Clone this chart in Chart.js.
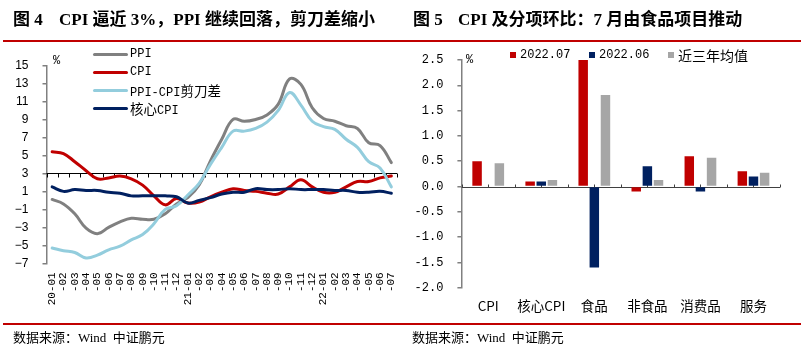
<!DOCTYPE html>
<html><head><meta charset="utf-8">
<script src="https://cdn.jsdelivr.net/npm/chart.js@4.4.0/dist/chart.umd.min.js"></script>
<style>
html,body{margin:0;padding:0;background:#fff}
#page{position:relative;width:803px;height:356px;overflow:hidden;background:#fff}
.abs{position:absolute;white-space:nowrap;z-index:2}
.title{font-family:'Liberation Serif','Noto Sans CJK SC',serif;font-weight:bold;font-size:17px;line-height:18px;color:#000}
.rule{position:absolute;left:3px;width:798px;height:2px;background:#C00000}
.src{font-family:'Liberation Serif','Noto Sans CJK SC',serif;font-size:13px;line-height:16px;color:#000}
.leg{font-family:'Liberation Mono','Noto Sans CJK SC',monospace;font-size:12px;line-height:16px;color:#000}
.leg .c{font-family:'Noto Sans CJK SC';font-size:13.5px}
.ln{position:absolute;height:3px;border-radius:1.5px;z-index:2}
.sq{position:absolute;width:6px;height:6px;z-index:2}
canvas{position:absolute;top:0;z-index:1}
</style></head>
<body><div id="page">
<div class="abs title" style="left:13px;top:11px">图 4</div>
<div class="abs title" style="left:59px;top:11px">CPI 逼近 3%，PPI 继续回落，剪刀差缩小</div>
<div class="abs title" style="left:413px;top:11px">图 5</div>
<div class="abs title" style="left:458px;top:11px">CPI 及分项环比：7 月由食品项目推动</div>
<div class="rule" style="top:40px"></div>
<div class="rule" style="top:323px"></div>
<div class="abs src" style="left:13px;top:330px">数据来源：Wind&nbsp; 中证鹏元</div>
<div class="abs src" style="left:412px;top:330px">数据来源：Wind&nbsp; 中证鹏元</div>

<div class="ln" style="left:93px;width:35px;top:53px;background:#808080"></div>
<div class="ln" style="left:93px;width:35px;top:71px;background:#C00000"></div>
<div class="ln" style="left:93px;width:35px;top:89px;background:#93CDDD"></div>
<div class="ln" style="left:93px;width:35px;top:107px;background:#002060"></div>
<div class="abs leg" style="left:130px;top:46px">PPI</div>
<div class="abs leg" style="left:130px;top:64px">CPI</div>
<div class="abs leg" style="left:130px;top:82px">PPI-CPI<span class="c">剪刀差</span></div>
<div class="abs leg" style="left:130px;top:100px"><span class="c">核心</span>CPI</div>
<div class="abs leg" style="left:53px;top:53px">%</div>

<div class="sq" style="left:510px;top:52px;background:#C00000"></div>
<div class="sq" style="left:589px;top:52px;background:#002060"></div>
<div class="sq" style="left:668px;top:52px;background:#A6A6A6"></div>
<div class="abs leg" style="left:520px;top:47px">2022.07</div>
<div class="abs leg" style="left:599px;top:47px">2022.06</div>
<div class="abs leg" style="left:678px;top:47px"><span class="c" style="font-size:14px">近三年均值</span></div>
<div class="abs leg" style="left:466px;top:52px">%</div>

<canvas id="c1" width="400" height="356" style="left:0;width:400px;height:356px"></canvas>
<canvas id="c2" width="403" height="356" style="left:400px;width:403px;height:356px"></canvas>
</div>
<script>
// ---- Figure 4 data (YoY %, 2020-01 .. 2022-07)
const monthLabels = ['20-01','-02','-03','-04','-05','-06','-07','-08','-09','-10','-11','-12',
  '21-01','-02','-03','-04','-05','-06','-07','-08','-09','-10','-11','-12',
  '22-01','-02','-03','-04','-05','-06','-07'];
const ppi  = [0.1,-0.4,-1.5,-3.1,-3.7,-3.0,-2.4,-2.0,-2.1,-2.1,-1.5,-0.4,
  0.3,1.7,4.4,6.8,9.0,8.8,9.0,9.5,10.7,13.5,12.9,10.3,
  9.1,8.8,8.3,8.0,6.4,6.1,4.2];
const cpi  = [5.4,5.2,4.3,3.3,2.4,2.5,2.7,2.4,1.7,0.5,-0.5,0.2,
  -0.3,-0.2,0.4,0.9,1.3,1.1,1.0,0.8,0.7,1.5,2.3,1.5,
  0.9,0.9,1.5,2.1,2.1,2.5,2.7];
const gap  = [-5.3,-5.6,-5.8,-6.4,-6.1,-5.5,-5.1,-4.4,-3.8,-2.6,-1.0,-0.6,
  0.6,1.9,4.0,5.9,7.7,7.7,8.0,8.7,10.0,12.0,10.6,8.8,
  8.2,7.9,6.8,5.9,4.3,3.6,1.5];
const core = [1.5,1.0,1.2,1.1,1.1,0.9,0.8,0.5,0.5,0.5,0.5,0.4,
  -0.3,0.0,0.3,0.7,0.9,0.9,1.3,1.2,1.2,1.3,1.2,1.2,
  1.2,1.1,1.1,0.9,0.9,1.0,0.8];

// ---- Figure 5 data (MoM %)
const cats = ['CPI','核心CPI','食品','非食品','消费品','服务'];
const jul22 = [0.5,0.1,2.5,-0.1,0.6,0.3];
const jun22 = [0.0,0.1,-1.6,0.4,-0.1,0.2];
const avg3y = [0.46,0.13,1.81,0.13,0.57,0.27];

const baseline = {
  id:'baseline',
  beforeDatasetsDraw(chart, args, o){
    if(!o || o.value === undefined) return;
    const xs = chart.scales.x, ys = chart.scales.y, ctx = chart.ctx, ca = chart.chartArea;
    const py = Math.round(ys.getPixelForValue(o.value)) + 0.5;
    const step = xs.getPixelForValue(1) - xs.getPixelForValue(0);
    const n = chart.data.labels.length;
    ctx.save();
    ctx.strokeStyle = o.color; ctx.lineWidth = 1;
    ctx.beginPath();
    ctx.moveTo(ca.left, py); ctx.lineTo(ca.right, py);
    const inc = o.half ? 0.5 : 1;
    for(let k = 0; k <= n + 1e-9; k += inc){
      const px = Math.round(xs.getPixelForValue(0) - step/2 + k*step) + 0.5;
      ctx.moveTo(px, py); ctx.lineTo(px, py + o.dir*o.len);
    }
    ctx.stroke(); ctx.restore();
  }
};

new Chart(document.getElementById('c1'), {
  type:'line',
  data:{labels:monthLabels, datasets:[
    {label:'PPI', data:ppi, borderColor:'#808080', order:3},
    {label:'CPI', data:cpi, borderColor:'#C00000', order:2},
    {label:'PPI-CPI剪刀差', data:gap, borderColor:'#93CDDD', order:1},
    {label:'核心CPI', data:core, borderColor:'#002060', order:0}
  ]},
  options:{
    responsive:false, animation:false, devicePixelRatio:1,
    layout:{padding:{left:0, top:65.5, right:3, bottom:42.7}},
    elements:{line:{borderWidth:3, tension:0.4, borderCapStyle:'round', borderJoinStyle:'round', fill:false}, point:{radius:0}},
    plugins:{legend:{display:false}, tooltip:{enabled:false}, baseline:{value:3, color:'#000', dir:1, len:4}},
    scales:{
      x:{type:'category', offset:true,
        grid:{display:false, drawTicks:false}, border:{display:false},
        ticks:{autoSkip:false, minRotation:90, maxRotation:90, padding:9, color:'#000',
          font:{family:"'Liberation Mono'", size:11}},
        afterFit(s){ s.height = 50; s.paddingLeft = 0; s.paddingRight = 0; }},
      y:{min:-7, max:15,
        ticks:{stepSize:2, padding:14, color:'#000', font:{family:"'Liberation Sans'", size:12},
          callback:v => (v < 0 ? '\u2212' + Math.abs(v) : String(v))},
        grid:{drawOnChartArea:false, drawTicks:true, tickLength:4, color:'#808080', lineWidth:1.5},
        border:{color:'#808080', width:1.5},
        afterFit(s){ s.width = 46.5; s.paddingTop = 0; s.paddingBottom = 0; }}
    }
  },
  plugins:[baseline]
});

new Chart(document.getElementById('c2'), {
  type:'bar',
  data:{labels:cats, datasets:[
    {label:'2022.07', data:jul22, backgroundColor:'#C00000'},
    {label:'2022.06', data:jun22, backgroundColor:'#002060'},
    {label:'近三年均值', data:avg3y, backgroundColor:'#A6A6A6'}
  ]},
  options:{
    responsive:false, animation:false, devicePixelRatio:1,
    datasets:{bar:{categoryPercentage:0.63, barPercentage:0.85}},
    layout:{padding:{left:0, top:60, right:23, bottom:28.3}},
    plugins:{legend:{display:false}, tooltip:{enabled:false}, baseline:{value:0, color:'#404040', dir:-1, len:3, half:true}},
    scales:{
      x:{grid:{display:false, drawTicks:false}, border:{display:false},
        ticks:{autoSkip:false, minRotation:0, maxRotation:0, padding:10, color:'#000', font:{family:"'Noto Sans CJK SC'", size:13.5}},
        afterFit(s){ s.height = 40; s.paddingLeft = 0; s.paddingRight = 0; }},
      y:{min:-2, max:2.5,
        ticks:{stepSize:0.5, padding:14, color:'#000', font:{family:"'Liberation Mono'", size:12},
          callback:v => v.toFixed(1)},
        grid:{drawOnChartArea:false, drawTicks:true, tickLength:4.3, color:'#808080', lineWidth:1.5},
        border:{color:'#808080', width:1.5},
        afterFit(s){ s.width = 61.7; s.paddingTop = 0; s.paddingBottom = 0; }}
    }
  },
  plugins:[baseline]
});
</script>
</body></html>
